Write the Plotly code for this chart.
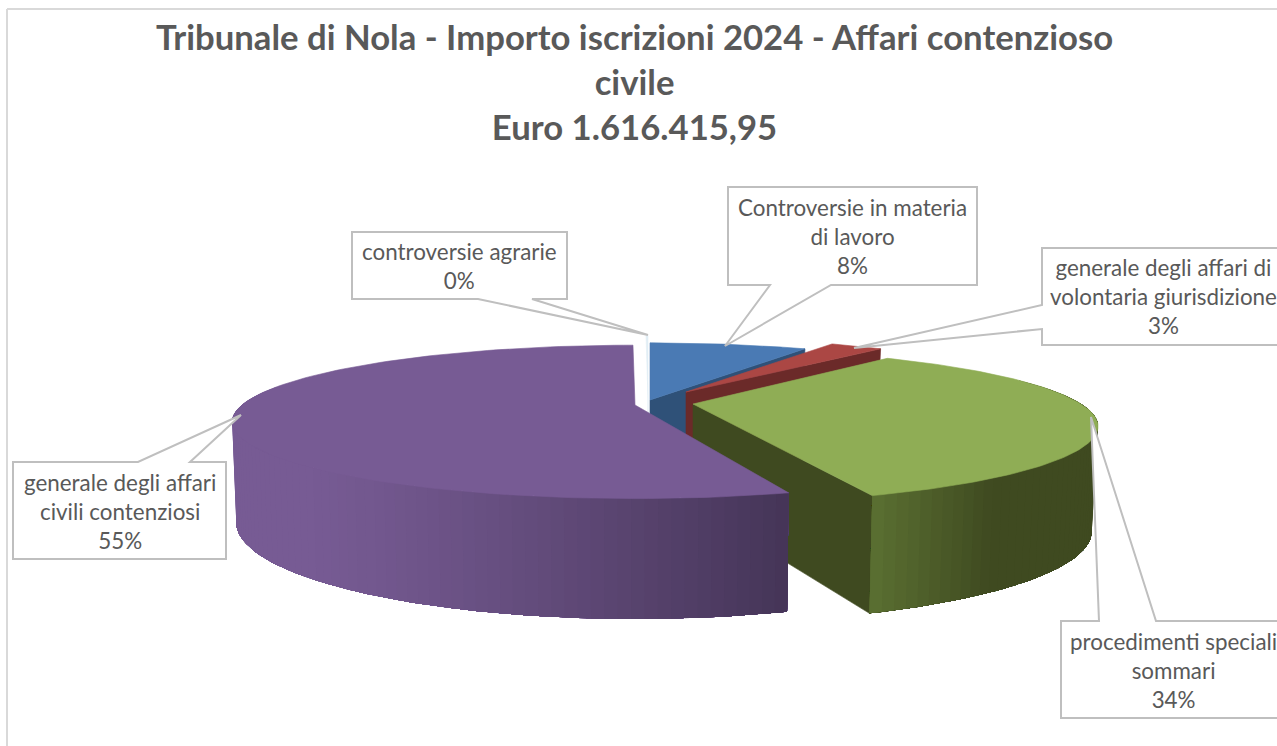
import math
import plotly.graph_objects as go

# ---- data ----
categories = ["Controversie in materia<br>di lavoro",
              "generale degli affari di<br>volontaria giurisdizione",
              "procedimenti speciali<br>sommari",
              "generale degli affari<br>civili contenziosi",
              "controversie agrarie"]
shares = [8.0, 3.0, 34.0, 54.9, 0.1]
title_lines = ["Tribunale di Nola - Importo iscrizioni 2024 - Affari contenzioso",
               "civile", "Euro 1.616.415,95"]

# ---- drawing geometry: one perspective disc per exploded slice ----
GEO = [
    dict(ax=650, ay=400, a=380, b=69, k=.207, rot=0, H=100, a2=372, b2=84, k2=.207),
    dict(ax=686, ay=392, a=354, b=65, k=.207, rot=0, H=100, a2=346, b2=80, k2=.207),
    dict(ax=693, ay=404, a=388, b=71, k=.287, rot=-1.7, H=101, a2=382, b2=84, k2=.287),
    dict(ax=635, ay=405, a=393, b=73, k=.22, rot=0, H=96, a2=389, b2=92, k2=.22),
    dict(ax=648, ay=400, a=380, b=78, k=.207, rot=0, H=100, a2=372, b2=84, k2=.207),
]
TOP = ["#4a7ab4", "#ab4744", "#8fad55", "#775b94", "#e2eef5"]
WALL = ["#2f5178", "#6b2a29", "#3f4a20", "#775b94", "#e2eef5"]

total = sum(shares)
edges = [0]
for v in shares:
    edges.append(edges[-1] + v / total * 360)


def pt(i, deg, low=False):
    g = GEO[i]
    t = math.radians(deg + g["rot"])
    if low:
        s = 1 / (1 + g["k2"] * math.cos(t))
        return g["ax"] + g["a2"] * math.sin(t) * s, g["ay"] + g["H"] + g["b2"] * -math.cos(t) * s
    s = 1 / (1 + g["k"] * math.cos(t))
    return g["ax"] + g["a"] * math.sin(t) * s, g["ay"] - g["b"] * math.cos(t) * s


def apex(i, low=False):
    g = GEO[i]
    return g["ax"], g["ay"] + (g["H"] if low else 0)


def span(a, b, n):
    return [a + (b - a) * j / n for j in range(n + 1)]


fig = go.Figure()


def poly(points, color, edge=0.6):
    xs = [p[0] for p in points] + [points[0][0]]
    ys = [p[1] for p in points] + [points[0][1]]
    fig.add_trace(go.Scatter(x=xs, y=ys, mode="lines", fill="toself", fillcolor=color,
                             line=dict(color=color, width=edge), hoverinfo="skip", showlegend=False))


def top_face(i, color=None):
    pts = [apex(i)] + [pt(i, d) for d in span(edges[i], edges[i + 1], 120)]
    poly(pts, color or TOP[i])


def cut_wall(i, deg):
    poly([apex(i), pt(i, deg), pt(i, deg, True), apex(i, True)], WALL[i])


def lerp_hex(c1, c2, f):
    f = max(0, min(1, f))
    a = [int(c1[j:j + 2], 16) for j in (1, 3, 5)]
    b = [int(c2[j:j + 2], 16) for j in (1, 3, 5)]
    return "#%02x%02x%02x" % tuple(round(x + (y - x) * f) for x, y in zip(a, b))


def outer_wall(i, d0, d1, n, shade):
    # every band runs on to the end of the wall, the next band paints over it: no seams
    ds = span(d0, d1, n)
    for j in range(n):
        arc = ds[j:]
        poly([pt(i, d) for d in arc] + [pt(i, d, True) for d in reversed(arc)],
             shade(pt(i, ds[j])[0]), edge=0)


# agrarie sliver (almost nothing) behind the rest
poly([apex(4), pt(4, edges[4]), pt(4, edges[5]), pt(4, edges[5], True), apex(4, True)], TOP[4])
# blue
cut_wall(0, edges[1])
top_face(0)
# red
cut_wall(1, edges[2])
top_face(1)
# green: dark far end first, the bright near end last
cut_wall(2, edges[3])
outer_wall(2, 70, edges[3], 60,
           lambda x: lerp_hex("#5c7233", "#3f4a20", (x - 873) / 125))
top_face(2)
# purple: far left first, the dark near end last
def purple_shade(x):
    return lerp_hex("#775b94", "#443456", ((x - 300) / 490) ** 1.2 if x > 300 else 0)
outer_wall(3, 285, edges[3], 80, purple_shade)
top_face(3)

# ---- callouts ----
LINE = "#bfbfbf"
def callout(x0, y0, x1, y1, side, p, q, tip):
    pts = [(x0, y0)]
    if side == "top":
        pts += [(p, y0), tip, (q, y0)]
    pts += [(x1, y0), (x1, y1)]
    if side == "bottom":
        pts += [(q, y1), tip, (p, y1)]
    pts += [(x0, y1)]
    if side == "left":
        pts += [(x0, q), tip, (x0, p)]
    return dict(type="path", xref="x", yref="y", layer="above",
                path="M" + " L".join(f"{a},{b}" for a, b in pts) + " Z",
                fillcolor="white", line=dict(color=LINE, width=2))

shapes = [
    dict(type="line", xref="x", yref="y", x0=7, x1=7, y0=9, y1=746, line=dict(color="#d9d9d9", width=2), layer="below"),
    dict(type="line", xref="x", yref="y", x0=7, x1=1277, y0=9, y1=9, line=dict(color="#d9d9d9", width=2), layer="below"),
    callout(728, 187, 977, 285, "bottom", 770, 831, (725, 346)),
    callout(1042, 248, 1300, 345, "left", 305, 329, (854, 348)),
    callout(1061, 621, 1300, 718, "top", 1099, 1156, (1091, 417)),
    callout(13, 462, 226, 559, "top", 138, 190, (241, 415)),
    callout(352, 232, 567, 299, "bottom", 478, 532, (648, 335)),
]

label_pos = [(852, 236), (1163, 296), (1173, 670), (120, 511), (459, 266)]
annotations = []
for name, v, (x, y) in zip(categories, shares, label_pos):
    annotations.append(dict(x=x, y=y, xref="x", yref="y", showarrow=False, align="center",
                            text=f"{name}<br>{round(v / total * 100)}%",
                            font=dict(family="Lato, sans-serif", size=22.4, color="#595959")))
annotations.append(dict(x=634, y=81, xref="x", yref="y", showarrow=False, align="center",
                        text="<br>".join(f"<b>{t}</b>" for t in title_lines),
                        font=dict(family="Lato, sans-serif", size=34.7, color="#595959")))

fig.update_layout(width=1277, height=746, margin=dict(l=0, r=0, t=0, b=0), autosize=False,
                  paper_bgcolor="white", plot_bgcolor="white", showlegend=False,
                  shapes=shapes, annotations=annotations,
                  xaxis=dict(range=[0, 1277], visible=False, fixedrange=True),
                  yaxis=dict(range=[746, 0], visible=False, fixedrange=True))
fig.write_html("out.html", post_script="document.body.style.margin='0';document.body.style.overflow='hidden';",
               config=dict(displayModeBar=False))
